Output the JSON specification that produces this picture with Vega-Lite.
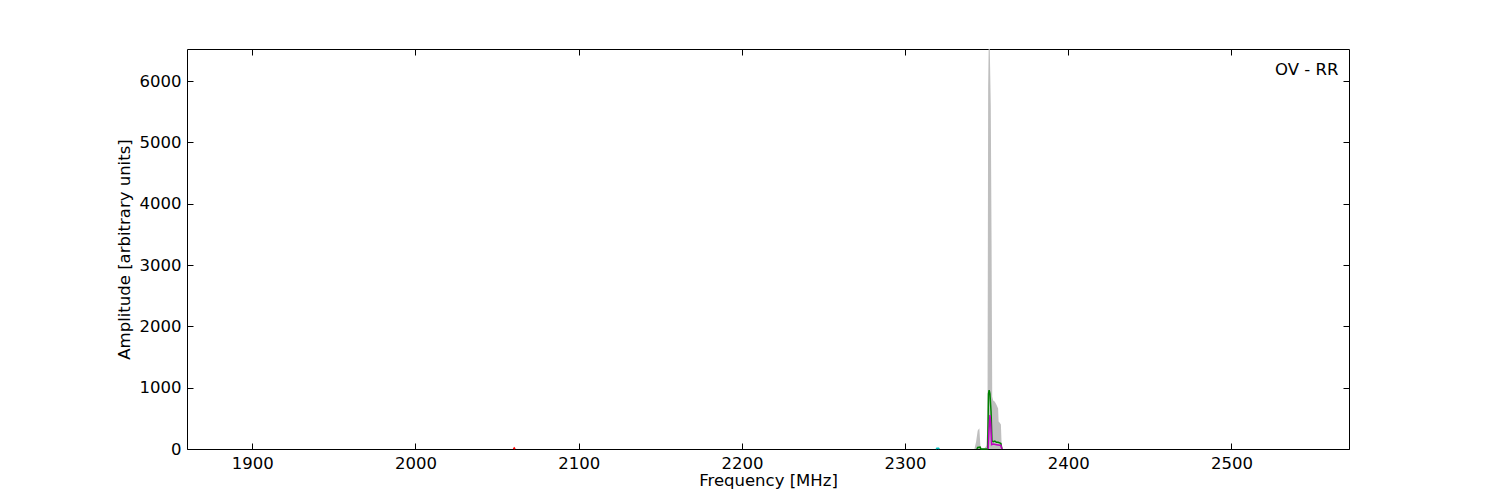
{
  "$schema": "https://vega.github.io/schema/vega-lite/v6.json",
  "width": 1162,
  "height": 400,
  "autosize": {"type": "none"},
  "padding": {"left": 187, "top": 49, "right": 151, "bottom": 51},
  "background": "white",
  "config": {
    "view": {"stroke": "black", "strokeWidth": 1},
    "axis": {
      "labelFont": "DejaVu Sans",
      "titleFont": "DejaVu Sans",
      "labelFontSize": 16.5,
      "titleFontSize": 16.5,
      "titleFontWeight": "normal",
      "labelColor": "black",
      "titleColor": "black",
      "tickColor": "black",
      "domain": false,
      "grid": false,
      "tickSize": -6,
      "labelPadding": 12
    }
  },
  "datasets": {
    "envelope": [
      {"freq": 1860, "amp": 0},
      {"freq": 2342.5, "amp": 0},
      {"freq": 2343.5, "amp": 120},
      {"freq": 2344.5, "amp": 300},
      {"freq": 2345.5, "amp": 340},
      {"freq": 2346.2, "amp": 20},
      {"freq": 2347, "amp": 10},
      {"freq": 2348.5, "amp": 10},
      {"freq": 2349.8, "amp": 50},
      {"freq": 2350.5, "amp": 400},
      {"freq": 2350.9, "amp": 5900},
      {"freq": 2351.2, "amp": 6522},
      {"freq": 2351.9, "amp": 6522},
      {"freq": 2352.5, "amp": 5600},
      {"freq": 2353.0, "amp": 3300},
      {"freq": 2353.4, "amp": 850},
      {"freq": 2354, "amp": 790},
      {"freq": 2355, "amp": 770},
      {"freq": 2356, "amp": 720},
      {"freq": 2357, "amp": 660},
      {"freq": 2357.3, "amp": 450},
      {"freq": 2358, "amp": 430},
      {"freq": 2358.7, "amp": 400},
      {"freq": 2359.2, "amp": 40},
      {"freq": 2360, "amp": 0},
      {"freq": 2572, "amp": 0}
    ],
    "lines": [
      {"series": "c", "freq": 2319.0, "amp": 0},
      {"series": "c", "freq": 2319.5, "amp": 14},
      {"series": "c", "freq": 2320.5, "amp": 14},
      {"series": "c", "freq": 2321.0, "amp": 0},
      {"series": "r", "freq": 2060.0, "amp": 0},
      {"series": "r", "freq": 2060.5, "amp": 18},
      {"series": "r", "freq": 2061.0, "amp": 0},
      {"series": "g", "freq": 2344.0, "amp": 0},
      {"series": "g", "freq": 2344.5, "amp": 25},
      {"series": "g", "freq": 2346, "amp": 30},
      {"series": "g", "freq": 2346.5, "amp": 0},
      {"series": "g", "freq": 2350.6, "amp": 0},
      {"series": "g", "freq": 2351.1, "amp": 900},
      {"series": "g", "freq": 2351.5, "amp": 960},
      {"series": "g", "freq": 2352.0, "amp": 900},
      {"series": "g", "freq": 2352.7, "amp": 600},
      {"series": "g", "freq": 2353.2, "amp": 130},
      {"series": "g", "freq": 2354, "amp": 120},
      {"series": "g", "freq": 2355, "amp": 130},
      {"series": "g", "freq": 2356, "amp": 110},
      {"series": "g", "freq": 2357, "amp": 110},
      {"series": "g", "freq": 2358, "amp": 100},
      {"series": "g", "freq": 2358.7, "amp": 90},
      {"series": "g", "freq": 2359.3, "amp": 0},
      {"series": "m", "freq": 2350.9, "amp": 0},
      {"series": "m", "freq": 2351.4, "amp": 300},
      {"series": "m", "freq": 2352.0, "amp": 555},
      {"series": "m", "freq": 2352.5, "amp": 400},
      {"series": "m", "freq": 2353.0, "amp": 70},
      {"series": "m", "freq": 2354, "amp": 80},
      {"series": "m", "freq": 2356, "amp": 70},
      {"series": "m", "freq": 2358, "amp": 60},
      {"series": "m", "freq": 2358.7, "amp": 60},
      {"series": "m", "freq": 2359.3, "amp": 0}
    ],
    "label": [{"freq": 2565.5, "amp": 6180, "text": "OV - RR"}]
  },
  "layer": [
    {
      "data": {"name": "envelope"},
      "mark": {"type": "area", "color": "#bfbfbf", "opacity": 1},
      "encoding": {
        "x": {
          "field": "freq", "type": "quantitative",
          "scale": {"domain": [1860, 2572], "nice": false, "zero": false},
          "axis": {"orient": "bottom", "title": "Frequency [MHz]", "values": [1900, 2000, 2100, 2200, 2300, 2400, 2500], "format": "d", "titlePadding": 1}
        },
        "y": {
          "field": "amp", "type": "quantitative",
          "scale": {"domain": [0, 6522], "nice": false},
          "axis": {"orient": "left", "title": "Amplitude [arbitrary units]", "values": [0, 1000, 2000, 3000, 4000, 5000, 6000], "format": "d", "titlePadding": 7}
        }
      }
    },
    {
      "data": {"name": "lines"},
      "mark": {"type": "line", "strokeWidth": 1.5, "interpolate": "linear"},
      "encoding": {
        "x": {
          "field": "freq", "type": "quantitative",
          "axis": {"orient": "top", "labels": false, "title": null, "values": [1900, 2000, 2100, 2200, 2300, 2400, 2500]}
        },
        "y": {
          "field": "amp", "type": "quantitative",
          "axis": {"orient": "right", "labels": false, "title": null, "values": [0, 1000, 2000, 3000, 4000, 5000, 6000]}
        },
        "color": {
          "field": "series", "type": "nominal", "legend": null,
          "scale": {"domain": ["c", "r", "g", "m"], "range": ["#00bfbf", "#ff0000", "#008000", "#bf00bf"]}
        },
        "order": {"field": "freq", "type": "quantitative"}
      }
    },
    {
      "data": {"name": "label"},
      "mark": {"type": "text", "align": "right", "baseline": "middle", "font": "DejaVu Sans", "fontSize": 16.5, "color": "black"},
      "encoding": {
        "x": {"field": "freq", "type": "quantitative", "axis": null},
        "y": {"field": "amp", "type": "quantitative", "axis": null},
        "text": {"field": "text"}
      }
    }
  ]
}
